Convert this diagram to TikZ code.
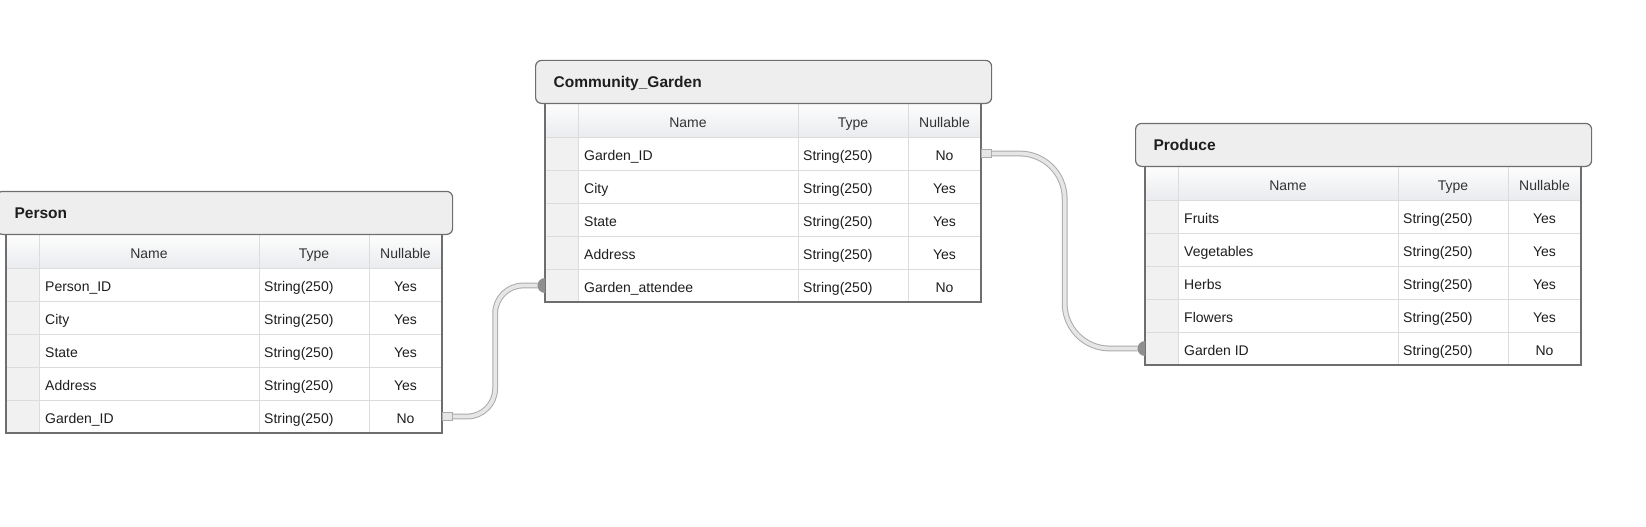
\documentclass[tikz,border=0pt]{standalone}
\usepackage{fontspec}
\setmainfont{Liberation Sans}
\usetikzlibrary{calc}
\definecolor{titlefill}{HTML}{EEEEEE}
\definecolor{frame}{HTML}{6E6E6E}
\definecolor{gridc}{HTML}{DCDCDC}
\definecolor{leftcol}{HTML}{F1F1F1}
\definecolor{hdrtop}{HTML}{FDFDFD}
\definecolor{hdrbot}{HTML}{E9EBEE}
\definecolor{txt}{HTML}{1E1E1E}
\definecolor{hdrtxt}{HTML}{333333}
\definecolor{pipeedge}{HTML}{AAAAAA}
\definecolor{pipefill}{HTML}{E6E6E6}
\definecolor{dotc}{HTML}{8E8E8E}
\newcommand\cellfont{\fontsize{14}{16}\selectfont}
\newcommand\titlefont{\fontsize{15.5}{18}\selectfont\bfseries}
\tikzset{
  cell/.style={inner sep=0pt, font=\cellfont, text=txt},
  hdrcell/.style={cell, text=hdrtxt},
  titlebox/.style={draw=frame, line width=1.2pt, fill=titlefill, rounded corners=6pt,
    text width=420pt, align=left, inner xsep=18pt, inner ysep=0pt,
    text height=12pt, text depth=0pt,
    minimum height=43pt, font=\titlefont, text=txt},
  gridline/.style={draw=gridc, line width=0.9pt},
  frameline/.style={draw=frame, line width=1.2pt},
  pipe/.style={draw=pipeedge, line width=1pt, double=pipefill, double distance=3.8pt},
  sqend/.style={draw=pipeedge, fill=pipefill, line width=0.8pt, minimum width=10pt,
    minimum height=8pt, inner sep=0pt},
}
% #1 prefix, #2 x, #3 y (body top-left), #4 title, #5 rows name/nullable
\newcommand\ertab[5]{%
  \begin{scope}[shift={(#2,#3)}]
    \fill[white] (0,0) rectangle (436,198);
    \shade[top color=hdrtop, bottom color=hdrbot] (0,0) rectangle (436,33);
    \fill[leftcol] (0,33) rectangle (33,198);
    \foreach \k in {1,...,5} \draw[gridline] (0,33*\k) -- (436,33*\k);
    \foreach \xx in {33,253,363} \draw[gridline] (\xx,0) -- (\xx,198);
    \node[hdrcell, anchor=base] (#1-hname) at (143,23.5) {Name};
    \node[hdrcell, anchor=base] (#1-htype) at (308,23.5) {Type};
    \node[hdrcell, anchor=base] (#1-hnull) at (399.5,23.5) {Nullable};
    \foreach \n/\v [count=\i] in {#5} {
      \pgfmathsetmacro\yc{33*\i+16.5}
      \coordinate (#1-r\i-w) at (0,\yc);
      \coordinate (#1-r\i-wd) at (-7.5,\yc);
      \coordinate (#1-r\i-e) at (436,\yc);
      \node[cell, anchor=base west] (#1-n\i) at (39,\yc+7) {\n};
      \node[cell, anchor=base west] (#1-t\i) at (258,\yc+7) {String(250)};
      \node[cell, anchor=base] (#1-v\i) at (399.5,\yc+7) {\v};
    }
    \draw[frameline] (0,0) -- (0,198) -- (436,198) -- (436,0);
    \node[titlebox, anchor=south west] (#1-title) at (-10,0) {#4};
  \end{scope}}
\begin{document}
\begin{tikzpicture}[x=1pt,y=-1pt]
  \useasboundingbox (0,0) rectangle (1646,527);
  \ertab{P}{6}{235}{Person}{Person\_ID/Yes, City/Yes, State/Yes, Address/Yes, Garden\_ID/No}
  \ertab{C}{545}{104}{Community\_Garden}{Garden\_ID/No, City/Yes, State/Yes, Address/Yes, Garden\_attendee/No}
  \ertab{R}{1145}{167}{Produce}{Fruits/Yes, Vegetables/Yes, Herbs/Yes, Flowers/Yes, Garden ID/No}
  % connector Person -> Community_Garden
  \node[sqend, anchor=west] (P-sq) at (P-r5-e) {};
  \draw[pipe, rounded corners=28pt] (P-sq.east) -| ($(P-sq.east)!0.5!(C-r5-wd)$) |- (C-r5-wd);
  \fill[dotc] (C-r5-w) ++(0,7.5) arc (90:270:7.5) -- cycle;
  % connector Community_Garden -> Produce
  \node[sqend, anchor=west] (C-sq) at (C-r1-e) {};
  \draw[pipe, rounded corners=45pt] (C-sq.east) -| ($(C-sq.east)!0.5!(R-r5-wd)$) |- (R-r5-wd);
  \fill[dotc] (R-r5-w) ++(0,7.5) arc (90:270:7.5) -- cycle;
\end{tikzpicture}
\end{document}
